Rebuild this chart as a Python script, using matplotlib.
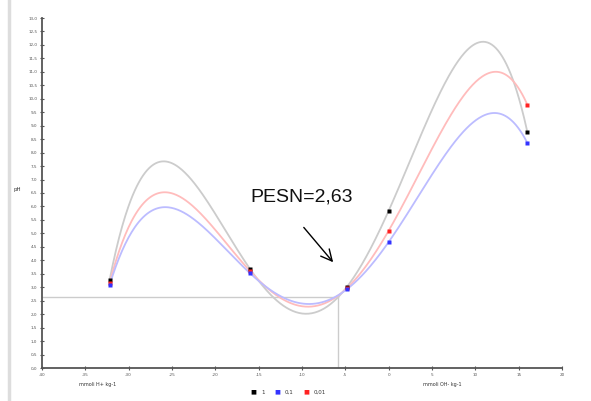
import numpy as np
import matplotlib
matplotlib.use("Agg")
import matplotlib.pyplot as plt
from matplotlib.ticker import MultipleLocator, FuncFormatter

# Data
x_vals = [-32.2, -16.0, -4.8, 0.0, 16.0]
series_names = ["1", "0,1", "0,01"]
ph_1 = [3.27, 3.68, 3.02, 5.84, 8.77]
ph_01 = [3.08, 3.52, 2.93, 4.68, 8.36]
ph_001 = [3.16, 3.60, 2.97, 5.10, 9.78]
pesn_x = -5.85
pesn_y = 2.63

marker_colors = ["#000000", "#3333ff", "#ff2222"]
curve_colors = ["#cccccc", "#bcbcff", "#ffbcbc"]
series = [ph_1, ph_01, ph_001]

fig = plt.figure(figsize=(5.91, 4.01), dpi=100)
ax = fig.add_axes([42/591, 33/401, 520/591, 350/401])

xs = np.array(x_vals)
for i in [0, 2, 1]:
    ys = np.array(series[i])
    coef = np.polyfit(xs, ys, 4)
    xx = np.linspace(xs.min(), xs.max(), 400)
    ax.plot(xx, np.polyval(coef, xx), color=curve_colors[i], lw=1.3, zorder=2)
for i in [0, 2, 1]:
    ax.plot(xs, series[i], 's', color=marker_colors[i], ms=3.2, zorder=4, mec='none')

ax.plot([-40, pesn_x], [pesn_y, pesn_y], color="#cccccc", lw=1.0, zorder=1)
ax.plot([pesn_x, pesn_x], [0, pesn_y], color="#cccccc", lw=1.0, zorder=1)

ax.set_xlim(-40, 20)
ax.set_ylim(0, 13)
ax.xaxis.set_major_locator(MultipleLocator(5))
ax.yaxis.set_major_locator(MultipleLocator(0.5))
ax.xaxis.set_major_formatter(FuncFormatter(lambda v, p: f"{v:.0f}"))
ax.yaxis.set_major_formatter(FuncFormatter(lambda v, p: f"{v:.1f}".replace('.', ',')))
ax.tick_params(axis='both', labelsize=3, colors="#555555", length=3, width=0.8, direction='inout', pad=2)
for s in ['top', 'right']:
    ax.spines[s].set_visible(False)
for s in ['left', 'bottom']:
    ax.spines[s].set_color("#555555")
    ax.spines[s].set_linewidth(1.3)

ax.text(-33.6, -0.6, "mmoli H+ kg-1", fontsize=3.5, color="#333333", ha='center', va='center')
ax.text(6.2, -0.6, "mmoli OH- kg-1", fontsize=3.5, color="#333333", ha='center', va='center')
fig.text(14/591, 1 - 190/401, "pH", fontsize=4, color="#333333", ha='left', va='center')

ax.text(-10.1, 6.35, "PESN=2,63", fontsize=14, color="#111111", ha='center', va='center',
        family=["Liberation Sans", "DejaVu Sans"])
ax.annotate("", xy=(-6.2, 3.85), xytext=(-10.0, 5.3),
            arrowprops=dict(arrowstyle='->', color='black', lw=1.0, mutation_scale=20))

# legend
for i, name in enumerate(series_names):
    lx = [253, 277, 306][i]
    fig.text(lx/591, 1 - 392/401, "\u25A0", fontsize=4.5, color=marker_colors[i], ha='center', va='center')
    fig.text((lx + 8)/591, 1 - 392/401, name, fontsize=4, color="#333333", ha='left', va='center')

# left grey frame bar
fig.add_artist(plt.Line2D([9/591, 9/591], [0, 1], color="#dddddd", lw=2.5, transform=fig.transFigure))

fig.savefig("out.png", dpi=100)
